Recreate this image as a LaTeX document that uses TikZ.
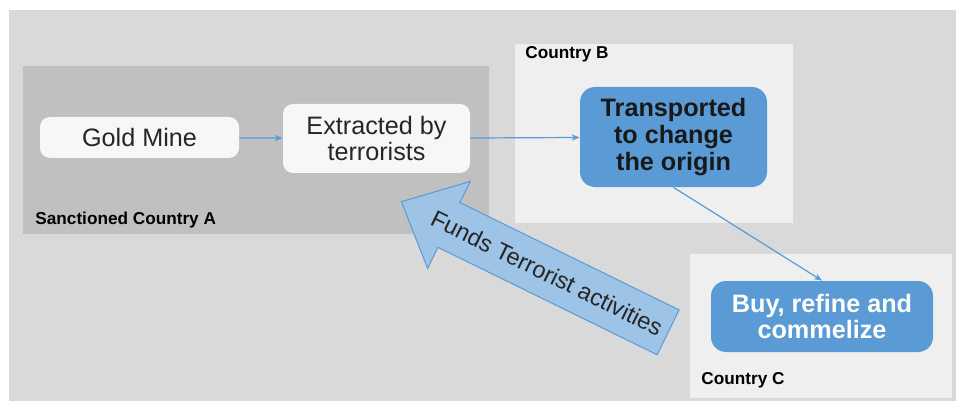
\documentclass[tikz,border=0pt]{standalone}
\usepackage{fontspec}
\setmainfont{Liberation Sans}
\usetikzlibrary{shapes.arrows, arrows.meta}
\definecolor{Panel}{RGB}{217, 217, 217}
\definecolor{Sanction}{RGB}{192, 192, 192}
\definecolor{Transit}{RGB}{239, 239, 239}
\definecolor{Pale}{RGB}{247, 247, 247}
\definecolor{Office-A}{RGB}{91, 155, 213}
\definecolor{Office-B}{RGB}{157, 195, 230}

\begin{document}
\begin{tikzpicture}[x=0.5pt, y=-0.5pt, font=\fontsize{12.6}{13}\selectfont,
    region/.style={inner sep=0pt, outer sep=0pt},
    regionlabel/.style={anchor=west, inner sep=0pt, font=\fontsize{8.6}{10}\selectfont\bfseries},
    palebox/.style={fill=Pale, rounded corners=5pt, align=center, inner sep=0pt, text=black!85},
    bluebox/.style={fill=Office-A, rounded corners=7.5pt, align=center, inner sep=0pt, font=\fontsize{12.6}{13.3}\selectfont\bfseries},
    link/.style={draw=Office-A, line width=0.6pt, -{Stealth[length=4pt, width=3.2pt]}}]

    \useasboundingbox (0,0) rectangle (956,406);

    % countries
    \node[region, fill=Panel, minimum width=473.5pt, minimum height=195.5pt] (panel) at (482.5,205.5) {};
    \node[region, fill=Sanction, minimum width=233pt, minimum height=84pt] (countryA) at (256,150) {};
    \node[region, fill=Transit, minimum width=139pt, minimum height=89.5pt] (countryB) at (654,133.5) {};
    \node[region, fill=Transit, minimum width=131pt, minimum height=72pt] (countryC) at (821,326) {};

    \node[regionlabel] (labelA) at (35,220) {Sanctioned Country A};
    \node[regionlabel] (labelB) at (525,54) {Country B};
    \node[regionlabel] (labelC) at (701,380) {Country C};

    % steps of the gold route
    \node[palebox, minimum width=99.5pt, minimum height=20.5pt] (mine) at (139.5,137.5) {Gold Mine};
    \node[palebox, minimum width=93.5pt, minimum height=34.5pt] (extracted) at (376.5,138.5) {Extracted by\\terrorists};
    \node[bluebox, minimum width=93.5pt, minimum height=50pt, text=black!90] (transported) at (673.5,137) {Transported\\to change\\the origin};
    \node[bluebox, minimum width=111pt, minimum height=35.5pt, text=white] (refine) at (822,316.5) {Buy, refine and\\commelize};

    \draw[link] (mine) -- (extracted);
    \draw[link] (extracted) -- (transported);
    \draw[link] (transported.south) -- (refine.north);

    % money flowing back
    \node[single arrow, shape border rotate=180, rotate=-26.1,
	fill=Office-B, draw=Office-A, line width=0.5pt,
	minimum height=148.5pt, minimum width=48pt, single arrow head extend=11.75pt,
	single arrow tip angle=85, inner xsep=1pt, inner ysep=7.9pt,
	font=\fontsize{11.8}{12}\selectfont, text=black!85] (funds) at (547,273) {Funds Terrorist activities};

\end{tikzpicture}
\end{document}
